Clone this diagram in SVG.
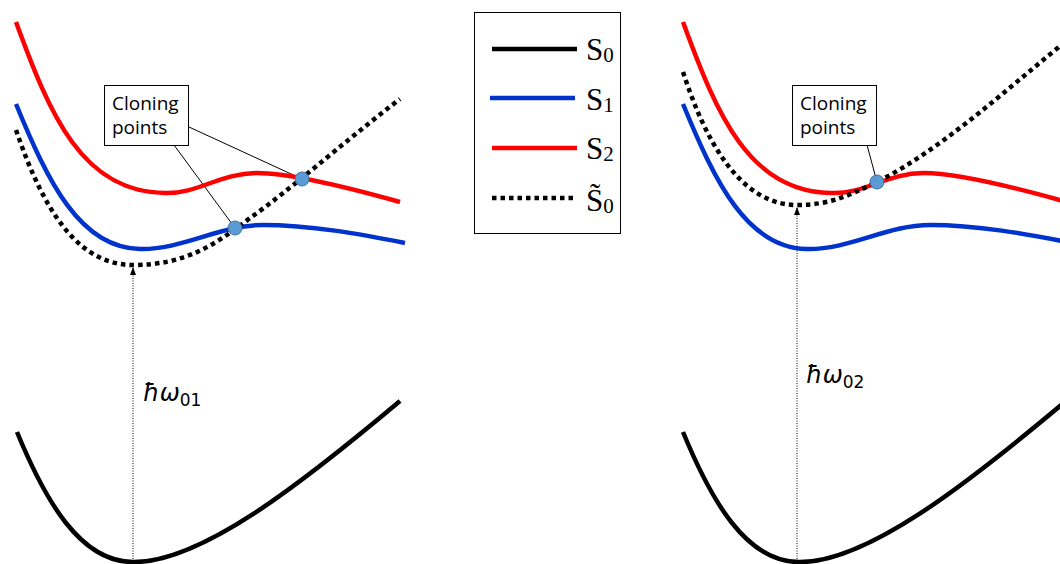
<svg xmlns="http://www.w3.org/2000/svg" width="1060" height="564" viewBox="0 0 1060 564">
<style>
.c{fill:none;stroke-width:4.5;stroke-linecap:butt}
.k{stroke:#000}
.b{stroke:#0033cc}
.r{stroke:#ff0000}
.d{stroke:#000;stroke-dasharray:4.5 4}
.ar{fill:none;stroke:#000;stroke-width:1;stroke-dasharray:1 1.5}
.cl{stroke:#000;stroke-width:1;fill:none}
.box{fill:#fff;stroke:#000;stroke-width:1}
.dot{fill:#5b9bd5;stroke:#41719c;stroke-width:1}
.t{font-family:"Open Sans","Liberation Sans",sans-serif;font-size:19px;fill:#000}
.s{font-family:"Liberation Serif","DejaVu Serif",serif;font-size:31px;fill:#000}
.sub{font-size:21px}
.hw{font-family:"DejaVu Sans","Open Sans",sans-serif;font-size:24px;font-style:italic;fill:#000}
.hs{font-size:17px;font-style:normal}
</style>
<defs>
<marker id="ah" viewBox="0 0 8 6" refX="8" refY="3" markerWidth="8" markerHeight="6" markerUnits="userSpaceOnUse" orient="auto">
<path d="M0,0 L8,3 L0,6 Z" fill="#000"/>
</marker>
<path id="red" d="M16,22 C50,115 82,192 165,193 C198,194 220,173 257,173 C290,173 350,188 400,202"/>
<path id="blue" d="M16,104 C48,182 80,248 140,249 C182,250 220,225 263,225 C310,225 360,234 405,243"/>
<path id="black" d="M17,432 C45,500 80,562 133,562 C200,563 300,485 400,401"/>
</defs>
<g id="connectors">
<line class="ar" x1="133" y1="564" x2="133" y2="267" marker-end="url(#ah)"/>
<line class="ar" x1="797" y1="564" x2="797" y2="207" marker-end="url(#ah)"/>
<line class="cl" x1="189" y1="127" x2="302" y2="179"/>
<line class="cl" x1="174" y1="145" x2="235" y2="228"/>
<line class="cl" x1="867" y1="145" x2="877" y2="182"/>
</g>
<g id="left-panel">
<use href="#black" class="c k"/>
<use href="#red" class="c r"/>
<use href="#blue" class="c b"/>
<path class="c d" d="M16,130 C45,215 80,265 133,265 C185,265 215,245 250,218 C290,190 340,145 400,99"/>
</g>
<g id="right-panel">
<use href="#black" class="c k" transform="translate(666,0)"/>
<use href="#red" class="c r" transform="translate(667,0)"/>
<use href="#blue" class="c b" transform="translate(667,0)"/>
<path class="c d" d="M683,72 C705,140 740,205 797,205 C830,205 850,195 877,182 C940,150 1000,95 1065,42"/>
</g>
<g id="dots">
<circle class="dot" cx="302" cy="179" r="7"/>
<circle class="dot" cx="235" cy="228" r="7"/>
<circle class="dot" cx="877" cy="182" r="7"/>
</g>
<g id="callout-left">
<rect class="box" x="104.5" y="85.5" width="84" height="60"/>
<text class="t" x="112" y="110">Cloning</text>
<text class="t" x="112" y="134">points</text>
</g>
<g id="callout-right">
<rect class="box" x="792.5" y="85.5" width="84" height="60"/>
<text class="t" x="800" y="110">Cloning</text>
<text class="t" x="800" y="134">points</text>
</g>
<g id="label-left">
<text class="hw" x="143" y="401">ħω<tspan class="hs" dy="5">01</tspan></text>
</g>
<g id="label-right">
<text class="hw" x="806" y="383">ħω<tspan class="hs" dy="5">02</tspan></text>
</g>
<g id="legend">
<rect class="box" x="474.5" y="12.5" width="146" height="221"/>
<line class="c k" x1="492" y1="49" x2="577" y2="49"/>
<line class="c b" x1="490" y1="98" x2="575" y2="98"/>
<line class="c r" x1="492" y1="148" x2="577" y2="148"/>
<line class="c d" x1="492" y1="198" x2="577" y2="198"/>
<text class="s" x="586" y="60">S<tspan class="sub" dy="2">0</tspan></text>
<text class="s" x="586" y="110">S<tspan class="sub" dy="2">1</tspan></text>
<text class="s" x="586" y="159">S<tspan class="sub" dy="2">2</tspan></text>
<text class="s" x="586" y="211">S̃<tspan class="sub" dy="2">0</tspan></text>
</g>
</svg>
